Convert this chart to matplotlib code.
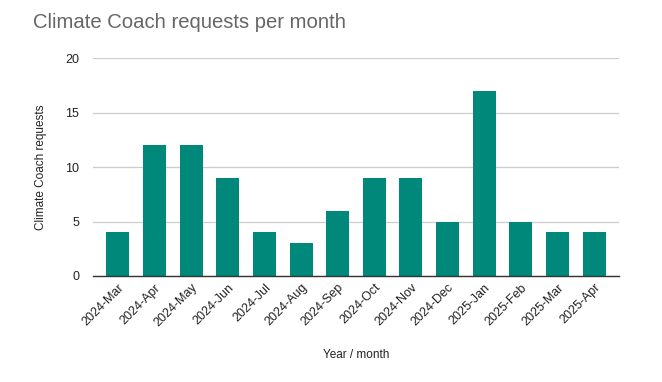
import matplotlib.pyplot as plt

plt.rcParams['font.family'] = ['Liberation Sans', 'DejaVu Sans']

months = ["2024-Mar", "2024-Apr", "2024-May", "2024-Jun", "2024-Jul", "2024-Aug",
          "2024-Sep", "2024-Oct", "2024-Nov", "2024-Dec", "2025-Jan", "2025-Feb",
          "2025-Mar", "2025-Apr"]
requests = [4, 12, 12, 9, 4, 3, 6, 9, 9, 5, 17, 5, 4, 4]
y_ticks = [0, 5, 10, 15, 20]

fig = plt.figure(figsize=(6.62, 3.82), dpi=100)
ax = fig.add_axes([0.1405, 0.2775, 0.7945, 0.5705])

x = range(len(months))
ax.bar(x, requests, width=0.63, color="#00897B", zorder=3)

ax.set_xlim(-0.68, len(months) - 1 + 0.68)
ax.set_ylim(0, 20)
ax.set_yticks(y_ticks)
ax.set_xticks(list(x))
ax.set_xticklabels(months, rotation=45, ha="right", rotation_mode="anchor")
ax.tick_params(axis="both", length=0, labelsize=9, colors="#222222")
ax.tick_params(axis="y", pad=10)
ax.tick_params(axis="x", pad=4)

ax.grid(axis="y", color="#cccccc", linewidth=0.9, zorder=0)
for s in ["top", "right", "left"]:
    ax.spines[s].set_visible(False)
ax.spines["bottom"].set_color("#333333")
ax.spines["bottom"].set_linewidth(1.0)
ax.spines["bottom"].set_zorder(4)

ax.set_ylabel("Climate Coach requests", fontsize=8.5, color="#222222", labelpad=13)
ax.set_xlabel("Year / month", fontsize=8.5, color="#222222", labelpad=14)

fig.text(33 / 662, 1 - 22 / 382, "Climate Coach requests per month", fontsize=14.6,
         color="#666666", va="center", ha="left")

fig.savefig("out.png", dpi=100)
